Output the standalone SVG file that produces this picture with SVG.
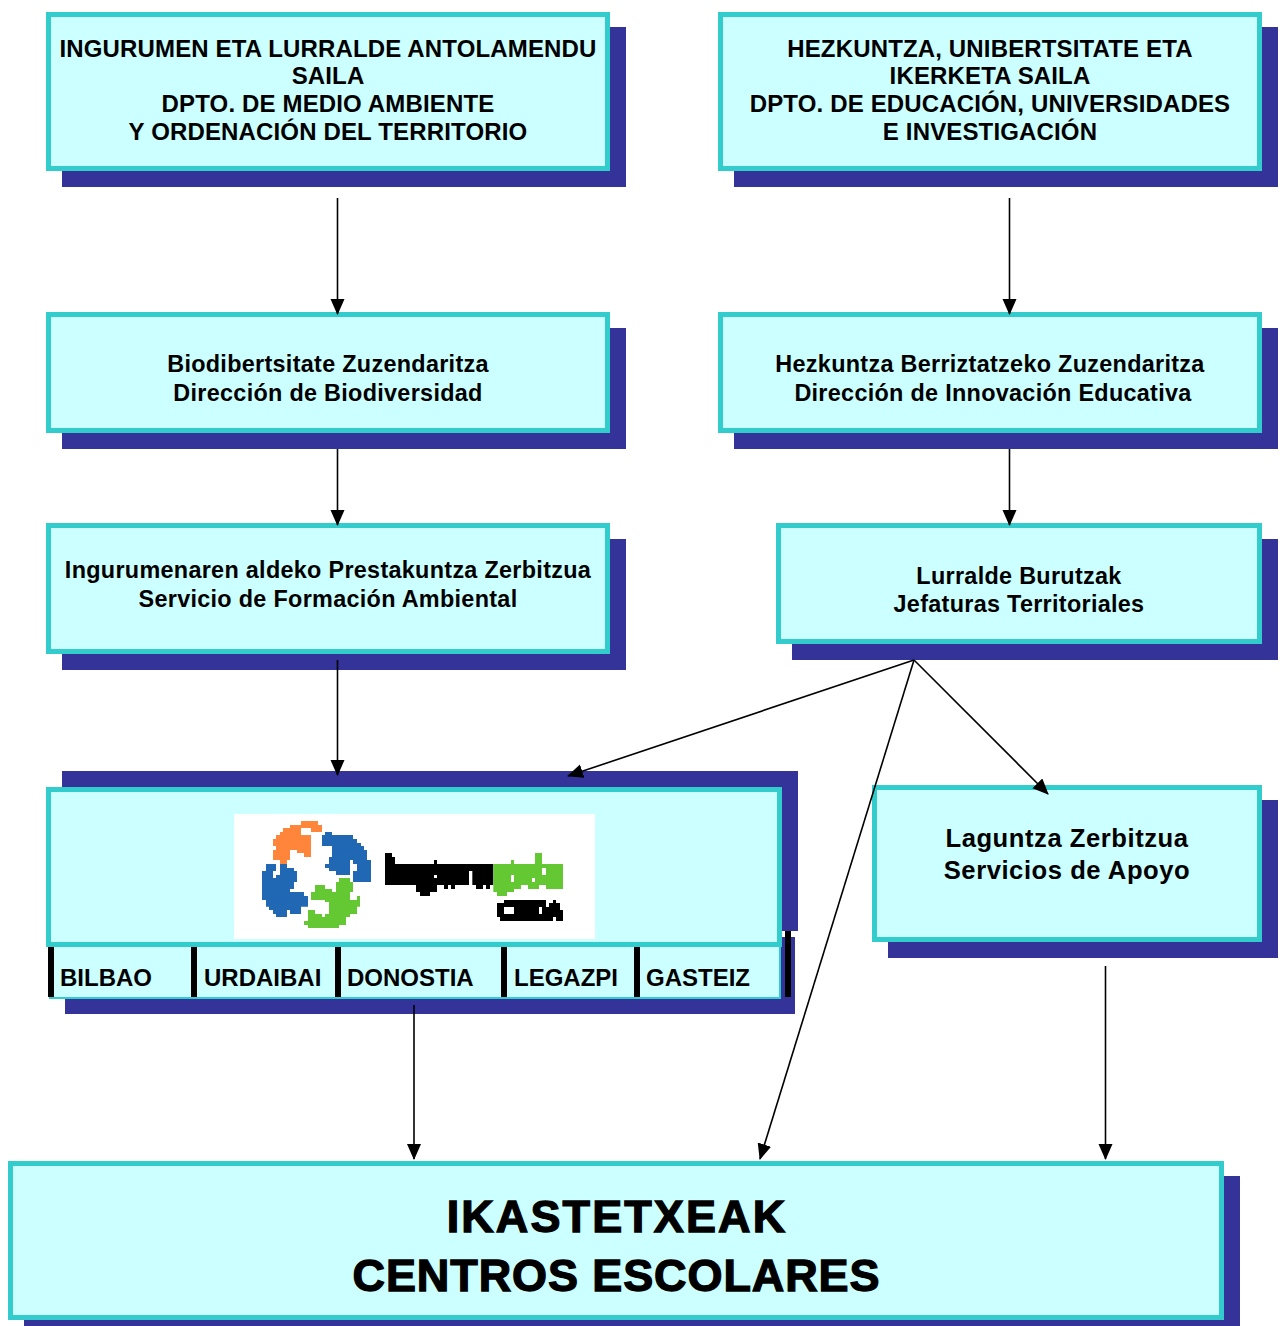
<svg xmlns="http://www.w3.org/2000/svg" width="1280" height="1326" viewBox="0 0 1280 1326">
<defs>
<marker id="arrow" markerUnits="userSpaceOnUse" markerWidth="16" markerHeight="16" refX="15" refY="7" orient="auto"><path d="M0,0 L16,7 L0,14 Z" fill="#000"/></marker>
</defs>
<style>
.shadow{fill:#333399}
.box{fill:#ccffff;stroke:#33cccc;stroke-width:5}
text{font-family:"Liberation Sans",Arial,sans-serif;font-weight:bold;fill:#000;text-anchor:middle}
.t1{font-size:24px;letter-spacing:.15px}
.t2{font-size:23.4px;letter-spacing:.3px}
.t3{font-size:25.6px;letter-spacing:.55px}
.t4{font-size:45px;stroke:#000;stroke-width:1.3px}
.c{font-size:24px;text-anchor:start}
.edge{stroke:#000;stroke-width:1.6;fill:none;marker-end:url(#arrow)}
.bar{fill:#000}
</style>
<rect width="1280" height="1326" fill="#fff"/>
<g id="n1"><rect class="shadow" x="62" y="27" width="564" height="160"/><rect class="box" x="48.500" y="14.500" width="559" height="154"/>
<text class="t1" x="328" y="57">INGURUMEN ETA LURRALDE ANTOLAMENDU</text><text class="t1" x="328" y="84">SAILA</text><text class="t1" x="328" y="112">DPTO. DE MEDIO AMBIENTE</text><text class="t1" x="328" y="140">Y ORDENACIÓN DEL TERRITORIO</text></g>
<g id="n2"><rect class="shadow" x="734" y="27" width="544" height="160"/><rect class="box" x="720.500" y="14.500" width="539" height="154"/>
<text class="t1" x="990" y="57">HEZKUNTZA, UNIBERTSITATE ETA</text><text class="t1" x="990" y="84">IKERKETA SAILA</text><text class="t1" x="990" y="112">DPTO. DE EDUCACIÓN, UNIVERSIDADES</text><text class="t1" x="990" y="140">E INVESTIGACIÓN</text></g>
<g id="n3"><rect class="shadow" x="62" y="328" width="564" height="121"/><rect class="box" x="48.500" y="314.500" width="559" height="116"/>
<text class="t2" x="328" y="372">Biodibertsitate Zuzendaritza</text><text class="t2" x="328" y="401">Dirección de Biodiversidad</text></g>
<g id="n4"><rect class="shadow" x="734" y="328" width="544" height="121"/><rect class="box" x="720.500" y="314.500" width="539" height="116"/>
<text class="t2" x="990" y="372">Hezkuntza Berriztatzeko Zuzendaritza</text><text class="t2" x="993" y="401">Dirección de Innovación Educativa</text></g>
<g id="n5"><rect class="shadow" x="62" y="539" width="564" height="131"/><rect class="box" x="48.500" y="525.500" width="559" height="126"/>
<text class="t2" x="328" y="578">Ingurumenaren aldeko Prestakuntza Zerbitzua</text><text class="t2" x="328" y="607">Servicio de Formación Ambiental</text></g>
<g id="n6"><rect class="shadow" x="792" y="539" width="486" height="121"/><rect class="box" x="778.500" y="525.500" width="481" height="116"/>
<text class="t2" x="1019" y="584">Lurralde Burutzak</text><text class="t2" x="1019" y="612">Jefaturas Territoriales</text></g>
<g id="n7">
<rect class="shadow" x="62" y="771" width="736" height="160"/>
<rect class="shadow" x="65" y="937" width="730" height="77"/>
<rect x="50" y="945" width="730" height="53" fill="#ccffff" stroke="#33cccc" stroke-width="2"/>
<rect class="box" x="48.500" y="789.500" width="731" height="155"/>
<rect x="234" y="814" width="361" height="125" fill="#fff"/>
<g transform="translate(220 800) scale(0.33333)">
<path fill="#ff853b" d="M243,63H294V75H306V96H273V84H243V105H273V171H252V159H231V150H210V180H201V192H180V180H159V150H168V138H159V117H168V105H180V96H189V84H210V75H243Z"/>
<path fill="#2068b4" d="M315,96H336V105H399V117H411V129H423V138H432V150H441V180H453V246H399V213H411V192H399V180H390V225H348V213H327V204H315V192H327V171H336V138H306V105H315Z"/>
<path fill="#2068b4" d="M138,192H168V213H159V234H168V225H180V192H201V204H222V213H231V246H222V267H210V276H252V288H264V320H243V342H210V330H201V351H168V342H159V330H147V320H138V300H126V213H138Z"/>
<path fill="#64c832" d="M357,234H390V246H399V276H390V300H411V288H420V320H411V342H390V351H378V375H357V384H264V375H252V363H264V330H285V342H306V351H315V342H327V306H315V300H273V276H285V255H315V267H336V276H348V246H357Z"/>
<path fill="#000" fill-rule="evenodd" d="M495,159H516V171H525V192H642V180H651V192H820V255H810V267H798V255H789V267H768V255H757V213H747V255H705V267H693V255H684V267H672V255H651V276H630V288H600V276H588V255H495Z M642,225V234H651V225Z"/>
<path fill="#64c832" fill-rule="evenodd" d="M820,192H873V180H882V192H945V159H966V192H1029V267H978V255H957V267H924V255H903V267H882V276H861V288H831V276H820Z M873,225V246H882V225Z M936,234V246H945V234Z M966,204V225H978V204Z"/>
<path fill="#000" fill-rule="evenodd" d="M852,300H978V321H987V309H999V300H1008V309H1020V330H1029V363H1008V351H999V363H840V351H831V309H852Z M852,321V342H882V321Z M957,321V342H966V321Z"/>
</g>
<rect class="bar" x="48" y="947" width="6" height="50"/><rect class="bar" x="191" y="947" width="6" height="50"/><rect class="bar" x="335" y="947" width="6" height="50"/><rect class="bar" x="501" y="947" width="6" height="50"/><rect class="bar" x="634" y="947" width="6" height="50"/><rect class="bar" x="785" y="931" width="6" height="66"/>
<text class="c" x="60" y="986">BILBAO</text><text class="c" x="204" y="986">URDAIBAI</text><text class="c" x="347" y="986">DONOSTIA</text><text class="c" x="514" y="986">LEGAZPI</text><text class="c" x="646" y="986">GASTEIZ</text>
</g>
<g id="n8"><rect class="shadow" x="888" y="800" width="390" height="158"/><rect class="box" x="874.500" y="787.500" width="385" height="152"/>
<text class="t3" x="1067" y="847">Laguntza Zerbitzua</text><text class="t3" x="1067" y="879">Servicios de Apoyo</text></g>
<g id="n9"><rect class="shadow" x="24" y="1176" width="1216" height="150"/><rect class="box" x="10.500" y="1163.500" width="1211" height="154"/>
<text class="t4" x="617" y="1232" style="letter-spacing:2.1px">IKASTETXEAK</text><text class="t4" x="616.500" y="1291" style="letter-spacing:.9px">CENTROS ESCOLARES</text></g>
<g id="connectors">
<line class="edge" x1="337.500" y1="198" x2="337.500" y2="314"/>
<line class="edge" x1="1009.500" y1="198" x2="1009.500" y2="314"/>
<line class="edge" x1="337.500" y1="449" x2="337.500" y2="525"/>
<line class="edge" x1="1009.500" y1="449" x2="1009.500" y2="525"/>
<line class="edge" x1="337.500" y1="660" x2="337.500" y2="775"/>
<line class="edge" x1="914" y1="660" x2="568" y2="776"/>
<line class="edge" x1="914" y1="660" x2="1048" y2="794"/>
<line class="edge" x1="914" y1="660" x2="760" y2="1159"/>
<line class="edge" x1="414" y1="1005" x2="414" y2="1159"/>
<line class="edge" x1="1105.500" y1="966" x2="1105.500" y2="1159"/>
</g>
</svg>
